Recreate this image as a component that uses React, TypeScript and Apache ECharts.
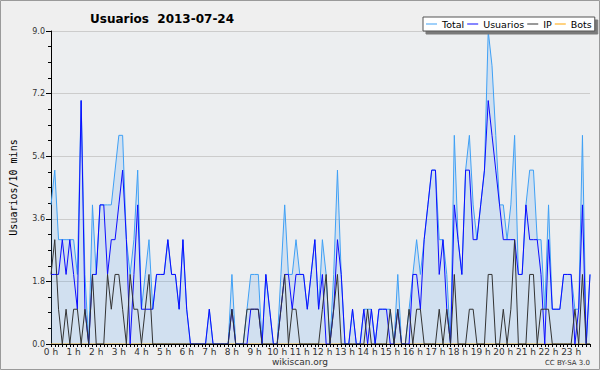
import React, { useEffect, useRef } from 'react';
import * as echarts from 'echarts';

const hourLabels = [
  '0 h', '1 h', '2 h', '3 h', '4 h', '5 h', '6 h', '7 h', '8 h', '9 h', '10 h', '11 h',
  '12 h', '13 h', '14 h', '15 h', '16 h', '17 h', '18 h', '19 h', '20 h', '21 h', '22 h', '23 h',
];
const minuteLabels = ['00', '10', '20', '30', '40', '50'];
const yTicks = [0, 1.8, 3.6, 5.4, 7.2, 9.0];

// one value per 10 minutes, 144 slots
const totalValues = [
  4, 5, 3, 3, 3, 3, 3, 2, 7, 2, 0, 4, 2, 4, 4, 4, 4, 5, 6, 6, 3, 2, 3, 5,
  1, 2, 3, 1, 2, 2, 2, 3, 2, 2, 1, 3, 1, 0, 0, 0, 0, 0, 1, 0, 0, 0, 0, 0,
  2, 0, 0, 0, 1, 2, 2, 2, 0, 2, 1, 0, 0, 2, 4, 2, 2, 3, 2, 2, 1, 2, 3, 1,
  3, 2, 0, 2, 5, 2, 0, 0, 1, 0, 0, 1, 1, 1, 0, 1, 1, 1, 1, 0, 2, 0, 0, 1,
  2, 3, 2, 3, 4, 5, 5, 3, 3, 2, 0, 6, 3, 2, 5, 6, 4, 3, 4, 5, 9, 8, 6, 4,
  4, 3, 4, 6, 2, 2, 4, 5, 5, 3, 3, 1, 4, 1, 1, 1, 2, 2, 2, 1, 1, 6, 0, 2,
];
const usuariosValues = [
  2, 2, 2, 3, 2, 3, 2, 1, 7, 1, 0, 2, 2, 4, 4, 2, 3, 3, 4, 5, 3, 0, 2, 4,
  1, 1, 1, 1, 2, 2, 2, 3, 2, 2, 1, 3, 1, 0, 0, 0, 0, 0, 1, 0, 0, 0, 0, 0,
  1, 0, 0, 0, 0, 1, 1, 1, 0, 2, 1, 0, 0, 1, 2, 2, 1, 2, 2, 2, 1, 2, 3, 1,
  2, 0, 0, 1, 3, 2, 0, 0, 1, 0, 0, 1, 0, 1, 0, 1, 1, 1, 0, 0, 1, 0, 0, 0,
  2, 2, 1, 3, 4, 5, 5, 2, 3, 1, 0, 4, 3, 2, 5, 5, 3, 3, 4, 5, 7, 6, 5, 4,
  3, 3, 3, 3, 2, 2, 4, 3, 3, 3, 2, 0, 3, 1, 1, 1, 2, 2, 2, 0, 1, 4, 0, 2,
];
const ipValues = [
  2, 3, 1, 0, 1, 0, 1, 1, 0, 1, 0, 2, 0, 0, 0, 2, 1, 2, 2, 1, 0, 2, 1, 1,
  0, 1, 2, 0, 0, 0, 0, 0, 0, 0, 0, 0, 0, 0, 0, 0, 0, 0, 0, 0, 0, 0, 0, 0,
  1, 0, 0, 0, 1, 1, 1, 1, 0, 0, 0, 0, 0, 1, 2, 0, 1, 1, 0, 0, 0, 0, 0, 0,
  1, 2, 0, 1, 2, 0, 0, 0, 0, 0, 0, 0, 1, 0, 0, 0, 0, 0, 1, 0, 1, 0, 0, 1,
  0, 1, 1, 0, 0, 0, 0, 1, 0, 1, 0, 2, 0, 0, 0, 1, 1, 0, 0, 0, 2, 2, 0, 0,
  1, 0, 1, 3, 0, 0, 0, 2, 2, 0, 1, 1, 1, 0, 0, 0, 0, 0, 0, 1, 0, 2, 0, 0,
];
const botsValues = [
  0, 0, 0, 0, 0, 0, 0, 0, 0, 0, 0, 0, 0, 0, 0, 0, 0, 0, 0, 0, 0, 0, 0, 0,
  0, 0, 0, 0, 0, 0, 0, 0, 0, 0, 0, 0, 0, 0, 0, 0, 0, 0, 0, 0, 0, 0, 0, 0,
  0, 0, 0, 0, 0, 0, 0, 0, 0, 0, 0, 0, 0, 0, 0, 0, 0, 0, 0, 0, 0, 0, 0, 0,
  0, 0, 0, 0, 0, 0, 0, 0, 0, 0, 0, 0, 0, 0, 0, 0, 0, 0, 0, 0, 0, 0, 0, 0,
  0, 0, 0, 0, 0, 0, 0, 0, 0, 0, 0, 0, 0, 0, 0, 0, 0, 0, 0, 0, 0, 0, 0, 0,
  0, 0, 0, 0, 0, 0, 0, 0, 0, 0, 0, 0, 0, 0, 0, 0, 0, 0, 0, 0, 0, 0, 0, 0,
];

const slots = hourLabels.flatMap((_, h) => minuteLabels.map((m) => `${h}:${m}`));

const FONT = 'DejaVu Sans';

export default function App() {
  const ref = useRef<HTMLDivElement>(null);
  useEffect(() => {
    if (!ref.current) return;
    const chart = echarts.init(ref.current, undefined, { renderer: 'svg' });
    const lineSeries = (name: string, data: number[], color: string, extra: any = {}) => ({
      name,
      type: 'line',
      data,
      symbol: 'none',
      showSymbol: false,
      lineStyle: { color, width: 1 },
      itemStyle: { color },
      emphasis: { disabled: true },
      ...extra,
    });
    chart.setOption({
      animation: false,
      backgroundColor: '#efefef',
      title: {
        text: 'Usuarios  2013-07-24',
        left: 85,
        top: 8,
        textStyle: { fontFamily: FONT, fontWeight: 'bold', fontSize: 12, color: '#000' },
      },
      legend: {
        left: 423,
        top: 17,
        width: 300,
        orient: 'horizontal',
        padding: [2, 3, 2, 3],
        itemGap: 3,
        itemWidth: 11,
        itemHeight: 1,
        icon: 'rect',
        backgroundColor: '#ffffff',
        borderColor: '#555',
        borderWidth: 1,
        shadowColor: '#7a7a7a',
        shadowBlur: 0,
        shadowOffsetX: 3,
        shadowOffsetY: 3,
        textStyle: { fontFamily: FONT, fontSize: 9.5, color: '#000' },
        data: ['Total', 'Usuarios', 'IP', 'Bots'],
      },
      grid: {
        left: 46,
        right: 10,
        top: 31,
        bottom: 26,
        show: true,
        backgroundColor: '#eceef0',
        borderWidth: 0,
      },
      xAxis: {
        type: 'category',
        data: slots,
        boundaryGap: false,
        z: 10,
        axisLine: { lineStyle: { color: '#000', width: 1 } },
        axisTick: { interval: 0, length: 3, lineStyle: { color: '#000' } },
        axisLabel: {
          interval: (i: number) => i % 6 === 0,
          formatter: (_v: string, i: number) => hourLabels[Math.floor(i / 6)],
          fontFamily: FONT,
          fontSize: 9,
          color: '#333',
          margin: 3,
        },
        splitLine: { show: false },
      },
      yAxis: {
        type: 'value',
        min: yTicks[0],
        max: yTicks[yTicks.length - 1],
        interval: 1.8,
        name: 'Usuarios/10 mins',
        nameLocation: 'middle',
        nameGap: 33,
        nameTextStyle: { fontFamily: 'DejaVu Sans Mono', fontSize: 10, color: '#000' },
        axisLine: { show: true, lineStyle: { color: '#000', width: 1 } },
        axisTick: { show: true, length: 5, lineStyle: { color: '#000' } },
        minorTick: { show: true, splitNumber: 4, length: 3, lineStyle: { color: '#000' } },
        axisLabel: {
          formatter: (v: number) => v.toFixed(1),
          fontFamily: FONT,
          fontSize: 8,
          color: '#333',
          margin: 6,
        },
        splitLine: { show: true, lineStyle: { color: '#cccccc', width: 1 } },
      },
      series: [
        lineSeries('Total', totalValues, '#3fa0f5', {
          areaStyle: { color: 'rgba(60,150,240,0.22)' },
        }),
        lineSeries('Usuarios', usuariosValues, '#0c0cff'),
        lineSeries('IP', ipValues, '#333333'),
        lineSeries('Bots', botsValues, '#ffa500', { z: 1 }),
      ],
      graphic: [
        {
          type: 'rect',
          shape: { x: 0.5, y: 0.5, width: 599, height: 369 },
          style: { fill: 'none', stroke: '#9a9a9a', lineWidth: 1 },
          silent: true,
        },
        {
          type: 'text',
          x: 300,
          y: 362,
          style: {
            text: 'wikiscan.org',
            fontFamily: FONT,
            fontSize: 9,
            fill: '#333',
            align: 'center',
            verticalAlign: 'middle',
          },
        },
        {
          type: 'text',
          x: 590,
          y: 363,
          style: {
            text: 'CC BY-SA 3.0',
            fontFamily: FONT,
            fontSize: 7,
            fill: '#333',
            align: 'right',
            verticalAlign: 'middle',
          },
        },
      ],
    });
    return () => chart.dispose();
  }, []);
  return (
    <div
      ref={ref}
      style={{ position: 'absolute', left: 0, top: 0, width: 600, height: 370 }}
    />
  );
}
